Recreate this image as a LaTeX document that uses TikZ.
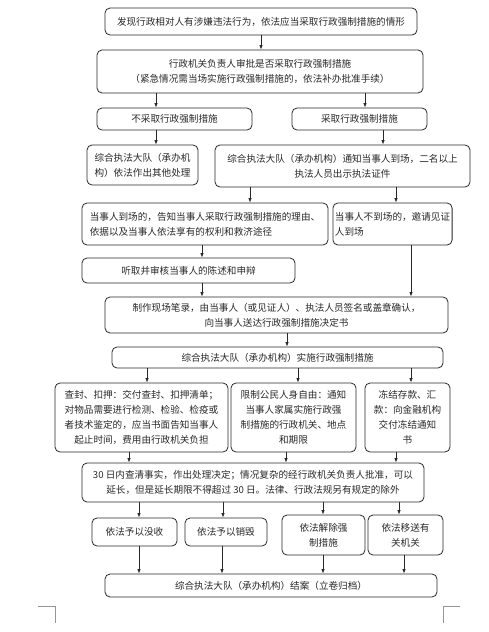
\documentclass[tikz,border=0pt]{standalone}
\usepackage{fontspec}
\newfontfamily\cjk{Noto Sans CJK SC}
\usetikzlibrary{arrows.meta,positioning}
\definecolor{lineblk}{RGB}{40,40,40}
\definecolor{markgray}{RGB}{150,150,150}

\begin{document}
\begin{tikzpicture}[x=1pt, y=-1pt,
  box/.style={draw=lineblk, line width=0.8pt, rounded corners=5pt, align=center, inner sep=2pt, text=lineblk, font=\cjk\fontsize{9.6}{15}\selectfont},
  arr/.style={draw=lineblk, line width=0.8pt, -{Latex[length=4.5pt,width=3.5pt]}}
]
  \useasboundingbox (0,0) rectangle (488,632);
  %% Start and approval
  \node[box, minimum width=312pt, minimum height=27pt] (find) at (261,21.5) {发现行政相对人有涉嫌违法行为，依法应当采取行政强制措施的情形};
  \node[box, minimum width=326pt, minimum height=43pt] (approve) at (260,71.5) {行政机关负责人审批是否采取行政强制措施\\（紧急情况需当场实施行政强制措施的，依法补办批准手续）};
  %% Decision
  \node[box, minimum width=155pt, minimum height=22pt] (nomeasure) at (174.5,119) {不采取行政强制措施};
  \node[box, minimum width=135pt, minimum height=22pt] (measure) at (359.5,119) {采取行政强制措施};
  \node[box, minimum width=111pt, minimum height=40pt] (otherdeal) at (142.5,165) {综合执法大队（承办机\\构）依法作出其他处理};
  \node[box, minimum width=255pt, minimum height=42pt] (notify) at (342.5,166) {综合执法大队（承办机构）通知当事人到场，二名以上\\执法人员出示执法证件};
  %% Party present or absent
  \node[box, align=left, minimum width=246pt, minimum height=42pt] (present) at (205,224) {当事人到场的，告知当事人采取行政强制措施的理由、\\依据以及当事人依法享有的权利和救济途径};
  \node[box, align=left, minimum width=111pt, minimum height=42pt] (absent) at (392.5,224) {当事人不到场的，邀请见证\\人到场};
  \node[box, minimum width=213pt, minimum height=25pt] (hear) at (188.5,270.5) {听取并审核当事人的陈述和申辩};
  \node[box, minimum width=343pt, minimum height=36pt] (record) at (276.5,315) {制作现场笔录，由当事人（或见证人）、执法人员签名或盖章确认，\\向当事人送达行政强制措施决定书};
  \node[box, minimum width=331pt, minimum height=21pt] (implement) at (277.5,357.5) {综合执法大队（承办机构）实施行政强制措施};
  %% Measures
  \node[box, minimum width=173pt, minimum height=69pt] (seal) at (141.5,417.5) {查封、扣押：交付查封、扣押清单；\\对物品需要进行检测、检验、检疫或\\者技术鉴定的，应当书面告知当事人\\起止时间，费用由行政机关负担};
  \node[box, minimum width=125pt, minimum height=69pt] (restrict) at (293.5,417.5) {限制公民人身自由：通知\\当事人家属实施行政强\\制措施的行政机关、地点\\和期限};
  \node[box, minimum width=85pt, minimum height=69pt] (freeze) at (407.5,417.5) {冻结存款、汇\\款：向金融机构\\交付冻结通知\\书};
  \node[box, minimum width=342pt, minimum height=39pt] (verify) at (253,482.5) {30 日内查清事实，作出处理决定；情况复杂的经行政机关负责人批准，可以\\延长，但是延长期限不得超过 30 日。法律、行政法规另有规定的除外};
  %% Outcomes
  \node[box, minimum width=85pt, minimum height=28pt] (confiscate) at (134.5,532) {依法予以没收};
  \node[box, minimum width=82pt, minimum height=28pt] (destroy) at (226,532) {依法予以销毁};
  \node[box, minimum width=83pt, minimum height=40pt] (release) at (323.5,535) {依法解除强\\制措施};
  \node[box, minimum width=75pt, minimum height=40pt] (transfer) at (405.5,535) {依法移送有\\关机关};
  \node[box, minimum width=332pt, minimum height=23pt] (close) at (271,585.5) {综合执法大队（承办机构）结案（立卷归档）};
  %% Connectors
  \draw[arr] (find.south) -- (find.south |- approve.north);
  \draw[arr] (approve.south -| 156,0) -- (nomeasure.north -| 156,0);
  \draw[arr] (approve.south -| 365,0) -- (measure.north -| 365,0);
  \draw[arr] (nomeasure.south -| 156,0) -- (otherdeal.north -| 156,0);
  \draw[arr] (measure.south -| 383,0) -- (notify.north -| 383,0);
  \draw[arr] (notify.south -| 250,0) -- (present.north -| 250,0);
  \draw[arr] (notify.south -| 396,0) -- (absent.north -| 396,0);
  \draw[arr] (present.south -| 202,0) -- (hear.north -| 202,0);
  \draw[arr] (hear.south -| 202,0) -- (record.north -| 202,0);
  \draw[arr] (absent.south -| 411,0) -- (record.north -| 411,0);
  \draw[arr] (record.south -| 287,0) -- (implement.north -| 287,0);
  \draw[arr] (implement.south -| 147,0) -- (seal.north -| 147,0);
  \draw[arr] (implement.south -| 298,0) -- (restrict.north -| 298,0);
  \draw[arr] (implement.south -| 411,0) -- (freeze.north -| 411,0);
  \draw[arr] (seal.south -| 129,0) -- (verify.north -| 129,0);
  \draw[arr] (restrict.south -| 286,0) -- (verify.north -| 286,0);
  \draw[arr] (freeze.south -| 396,0) -- (verify.north -| 396,0);
  \draw[arr] (verify.south -| 139,0) -- (confiscate.north -| 139,0);
  \draw[arr] (verify.south -| 223,0) -- (destroy.north -| 223,0);
  \draw[arr] (verify.south -| 323,0) -- (release.north -| 323,0);
  \draw[arr] (verify.south -| 399,0) -- (transfer.north -| 399,0);
  \draw[arr] (confiscate.south -| 139,0) -- (close.north -| 139,0);
  \draw[arr] (destroy.south -| 222,0) -- (close.north -| 222,0);
  \draw[arr] (release.south -| 323,0) -- (close.north -| 323,0);
  \draw[arr] (transfer.south -| 404,0) -- (close.north -| 404,0);
  %% Page corner marks
  \draw[markgray, line width=0.6pt] (38,606) -- (55,606) -- (55,623);
  \draw[markgray, line width=0.6pt] (460,606) -- (443,606) -- (443,623);
\end{tikzpicture}
\end{document}
